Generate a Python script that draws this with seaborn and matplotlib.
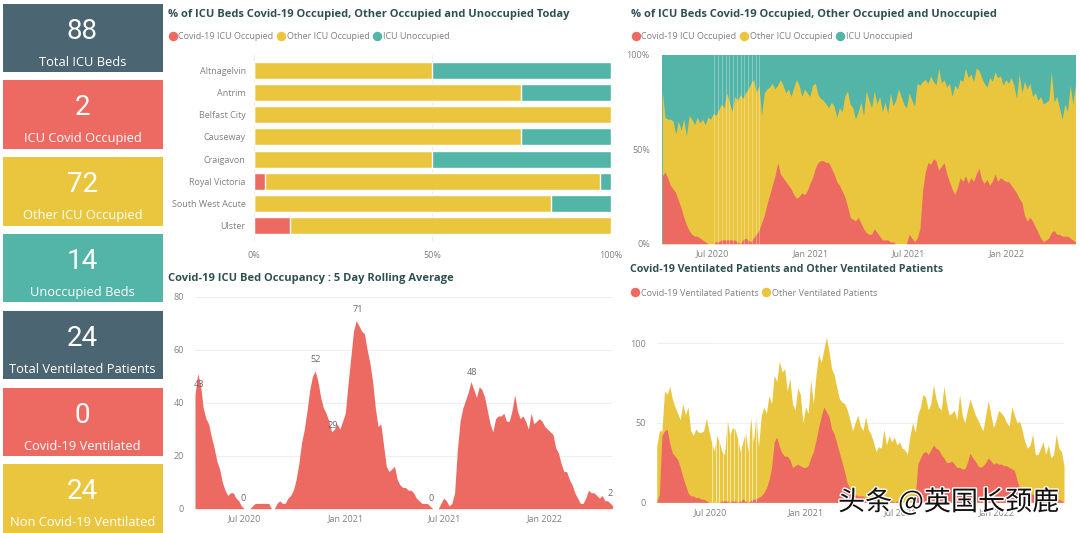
import pandas as pd
import numpy as np
import seaborn as sns
from matplotlib import pyplot as plt
from matplotlib import patheffects
from matplotlib.lines import Line2D
from matplotlib.patches import Rectangle

RED = '#ED6A62'
YELLOW = '#EAC63F'
TEAL = '#52B5A7'
SLATE = '#4B6572'
TITLE = '#2F5050'
GREY = '#808080'
W, H = 1080, 533

card_values = ['88', '2', '72', '14', '24', '0', '24']
card_labels = ['Total ICU Beds', 'ICU Covid Occupied', 'Other ICU Occupied', 'Unoccupied Beds',
               'Total Ventilated Patients', 'Covid-19 Ventilated', 'Non Covid-19 Ventilated']
card_colors = [SLATE, RED, YELLOW, TEAL, SLATE, RED, YELLOW]
card_tops = [4, 80, 157, 234, 311, 388, 464]
card_bottoms = [72, 149, 226, 302, 379, 456, 533]

hospitals = ['Altnagelvin', 'Antrim', 'Belfast City', 'Causeway', 'Craigavon', 'Royal Victoria',
             'South West Acute', 'Ulster']
today_covid = np.array([0, 0, 0, 0, 0, 3, 0, 10])
today_other = np.array([50, 75, 100, 75, 50, 94, 83.3, 90])
today_unocc = np.array([50, 25, 0, 25, 50, 3, 16.7, 0])

# % of beds, one value per 5 days
pct_covid = [36, 38, 35, 31, 29, 27, 23, 19, 14, 10,
             7, 5, 4, 4, 3, 2, 1, 0, 0, 0,
             1, 1, 2, 2, 2, 2, 2, 2, 1, 0,
             2, 3, 2, 1, 3, 5, 7, 11, 15, 21,
             26, 31, 36, 43, 37, 35, 33, 31, 29, 26,
             24, 25, 27, 26, 28, 32, 35, 40, 43, 44,
             44, 43, 43, 40, 37, 33, 31, 28, 25, 20,
             14, 13, 12, 14, 11, 8, 6, 5, 5, 8,
             6, 4, 2, 2, 2, 1, 1, 0, 0, 0,
             0, 0, 5, 3, 1, 3, 8, 28, 38, 43,
             42, 45, 44, 39, 41, 43, 37, 33, 29, 26,
             30, 35, 33, 36, 32, 35, 33, 37, 40, 34,
             32, 34, 31, 33, 37, 33, 35, 34, 33, 33,
             31, 29, 27, 24, 22, 15, 12, 14, 12, 9,
             6, 3, 1, 2, 3, 6, 7, 5, 5, 4,
             4, 4, 3, 2, 1]
pct_occupied = [81, 67, 66, 66, 65, 58, 65, 60, 66, 57,
                68, 66, 63, 67, 64, 66, 63, 67, 66, 69,
                68, 71, 74, 72, 80, 75, 70, 78, 76, 79,
                77, 80, 82, 85, 87, 80, 84, 68, 80, 82,
                83, 85, 82, 84, 87, 84, 80, 82, 78, 83,
                87, 84, 78, 82, 80, 78, 84, 85, 79, 77,
                76, 74, 72, 75, 73, 67, 72, 70, 78, 81,
                74, 72, 66, 70, 75, 68, 81, 76, 72, 81,
                74, 78, 70, 75, 69, 80, 73, 76, 82, 78,
                74, 72, 80, 76, 73, 85, 84, 86, 87, 85,
                89, 86, 84, 93, 85, 87, 83, 85, 78, 84,
                82, 87, 86, 93, 88, 90, 86, 93, 92, 88,
                85, 83, 88, 86, 91, 88, 89, 84, 87, 85,
                88, 84, 77, 90, 80, 86, 82, 85, 78, 80,
                76, 78, 74, 75, 76, 91, 75, 78, 72, 66,
                74, 70, 84, 74, 85]

# rolling average of occupied beds
rolling_covid = [43, 51, 47, 38, 34, 32, 27, 23, 18, 15,
                 10, 7, 5, 6, 6, 4, 3, 1, 0, 0,
                 0, 1, 2, 2, 2, 2, 2, 2, 0, 0,
                 2, 3, 2, 2, 4, 5, 7, 11, 17, 25,
                 30, 37, 45, 50, 52, 48, 42, 38, 36, 33,
                 29, 30, 32, 30, 33, 36, 47, 57, 67, 71,
                 69, 67, 66, 60, 55, 48, 38, 31, 32, 24,
                 16, 14, 15, 16, 11, 9, 8, 8, 7, 7,
                 6, 4, 3, 2, 2, 2, 1, 0, 0, 0,
                 2, 4, 3, 1, 2, 6, 22, 33, 38, 41,
                 44, 48, 45, 42, 46, 45, 42, 37, 32, 29,
                 34, 35, 35, 36, 33, 33, 37, 43, 37, 34,
                 35, 33, 30, 36, 32, 33, 34, 33, 31, 30,
                 29, 28, 23, 21, 17, 14, 14, 11, 9, 6,
                 4, 2, 2, 4, 7, 6, 6, 5, 4, 5,
                 3, 3, 2, 1]
rolling_labels = ['43', '0', '52', '29', '71', '0', '48', '2']
rolling_label_idx = [0, 18, 44, 50, 59, 87, 101, 152]
rolling_label_off = [(3, 4), (-1, 4), (0, 5), (1, 1), (1, 5), (-1, 4), (1, 3), (0, 4)]

vent_covid = [0, 5, 42, 45, 46, 37, 31, 29, 27, 22,
              16, 11, 6, 4, 4, 3, 3, 2, 2, 1,
              0, 0, 0, 0, 0, 1, 1, 1, 0, 1,
              1, 0, 1, 2, 1, 0, 1, 2, 2, 3,
              4, 6, 9, 14, 22, 38, 41, 35, 31, 29,
              29, 27, 22, 23, 24, 23, 22, 22, 23, 28,
              32, 39, 47, 54, 60, 57, 54, 46, 43, 37,
              31, 25, 19, 12, 9, 5, 5, 4, 4, 4,
              3, 4, 3, 2, 2, 1, 1, 1, 1, 1,
              1, 0, 1, 0, 0, 0, 0, 0, 0, 3,
              24, 28, 31, 32, 30, 33, 36, 34, 33, 30,
              28, 25, 25, 26, 24, 22, 22, 21, 21, 25,
              31, 28, 26, 23, 22, 23, 25, 28, 26, 24,
              25, 24, 24, 23, 23, 22, 21, 20, 14, 9,
              8, 6, 7, 6, 5, 4, 3, 3, 2, 1,
              1, 0, 1, 2, 2, 1, 0]
vent_total = [35, 45, 45, 70, 68, 73, 65, 60, 56, 52,
              62, 55, 60, 45, 42, 46, 44, 44, 45, 53,
              45, 38, 32, 42, 38, 32, 30, 52, 42, 47,
              46, 40, 32, 38, 44, 32, 53, 38, 54, 35,
              54, 60, 56, 67, 62, 80, 76, 89, 82, 84,
              70, 78, 62, 58, 72, 68, 50, 60, 56, 77,
              62, 80, 93, 88, 96, 104, 95, 84, 80, 72,
              65, 63, 62, 58, 52, 45, 50, 55, 48, 45,
              54, 46, 43, 38, 32, 35, 34, 46, 36, 42,
              38, 41, 36, 38, 34, 33, 30, 42, 50, 44,
              55, 60, 68, 66, 58, 62, 74, 65, 60, 58,
              73, 62, 55, 56, 58, 52, 68, 55, 50, 58,
              65, 60, 55, 52, 48, 45, 55, 64, 55, 47,
              52, 58, 56, 54, 50, 48, 60, 55, 50, 51,
              45, 38, 34, 36, 43, 30, 30, 34, 38, 30,
              36, 28, 30, 43, 34, 32, 23]

# days with missing reports in summer 2020
gap_dates = ['2020-07-05', '2020-07-12', '2020-07-19', '2020-07-26', '2020-08-02', '2020-08-09', '2020-08-16',
             '2020-08-23', '2020-08-30', '2020-09-06', '2020-09-13', '2020-09-20', '2020-09-27']
date_ticks = ['2020-07-01', '2021-01-01', '2021-07-01', '2022-01-01']
date_labels = ['Jul 2020', 'Jan 2021', 'Jul 2021', 'Jan 2022']

sns.set_theme(style='white')
plt.rcParams['font.family'] = ['Open Sans', 'DejaVu Sans']

fig = plt.figure(figsize=(W / 100, H / 100), dpi=100, facecolor='white')


def axes_at(left, top, right, bottom):
    ax = fig.add_axes([left / W, 1 - bottom / H, (right - left) / W, (bottom - top) / H])
    sns.despine(ax=ax, left=True, bottom=True)
    ax.tick_params(length=0, labelsize=6.5, labelcolor=GREY)
    ax.tick_params(axis='x', pad=4)
    ax.tick_params(axis='y', pad=6)
    return ax


def title_at(x, y, text, size=8.0):
    fig.text(x / W, 1 - y / H, text, fontsize=size, fontweight='bold', color=TITLE, va='center')


def legend_at(ax, x, y, names, colors):
    handles = [Line2D([], [], ls='', marker='o', ms=5.8, color=c) for c in colors]
    ax.legend(handles, names, loc='center left', bbox_to_anchor=(x / W, 1 - y / H),
              bbox_transform=fig.transFigure, ncol=len(names), frameon=False, fontsize=6.5,
              labelcolor=GREY, handlelength=1.0, handletextpad=0.15, columnspacing=0.35,
              borderpad=0, borderaxespad=0)


def date_axis(ax, start, end):
    ax.set_xlim(pd.Timestamp(start), pd.Timestamp(end))
    ax.set_xticks(pd.to_datetime(date_ticks))
    ax.set_xticklabels(date_labels)
    ax.set_xlabel('')
    ax.set_ylabel('')


# KPI cards
for val, lab, col, top, bottom in zip(card_values, card_labels, card_colors, card_tops, card_bottoms):
    fig.add_artist(Rectangle((2.5 / W, 1 - bottom / H), 160.5 / W, (bottom - top) / H,
                             transform=fig.transFigure, color=col, lw=0))
    fig.text(82.5 / W, 1 - (top + 27.5) / H, val, color='white', fontsize=20, ha='center', va='center',
             family=['Roboto', 'DejaVu Sans'])
    fig.text(82.5 / W, 1 - (top + 58.5) / H, lab, color='white', fontsize=9.3, ha='center', va='center')

# today's stacked bars
title_at(168, 14, '% of ICU Beds Covid-19 Occupied, Other Occupied and Unoccupied Today')
ax = axes_at(254, 55, 610.6, 241)
sns.barplot(x=today_covid + today_other + today_unocc, y=hospitals, color=TEAL, width=0.77, saturation=1, ax=ax)
sns.barplot(x=today_covid + today_other, y=hospitals, color=YELLOW, width=0.77, saturation=1, ax=ax)
sns.barplot(x=today_covid, y=hospitals, color=RED, width=0.77, saturation=1, ax=ax)
ax.set_xlim(0, 100)
ax.set_ylim(7.70, -0.70)
ax.set_xticks([0, 50, 100])
ax.set_xticklabels(['0%', '50%', '100%'])
ax.tick_params(axis='x', pad=7)
ax.tick_params(axis='y', pad=6)
ax.grid(axis='x', color='#EEEEEE', lw=0.8)
ax.set_axisbelow(True)
legend_at(ax, 168, 36.5, ['Covid-19 ICU Occupied', 'Other ICU Occupied', 'ICU Unoccupied'], [RED, YELLOW, TEAL])

# 100% stacked area over time
title_at(631, 14, '% of ICU Beds Covid-19 Occupied, Other Occupied and Unoccupied')
ax = axes_at(662.3, 55, 1075, 243.7)
pct_dates = pd.date_range('2020-03-30', periods=len(pct_covid), freq='5D')
sns.lineplot(x=pct_dates, y=pct_covid, color=RED, lw=0, ax=ax)
ax.fill_between(pct_dates, 100, color=TEAL, lw=0)
ax.fill_between(pct_dates, pct_occupied, color=YELLOW, lw=0)
ax.fill_between(pct_dates, pct_covid, color=RED, lw=0)
for d in gap_dates:
    ax.axvline(pd.Timestamp(d), color='white', lw=0.6, alpha=0.35)
date_axis(ax, '2020-03-30', '2022-05-08')
ax.set_ylim(0, 100)
ax.set_yticks([0, 50, 100])
ax.set_yticklabels(['0%', '50%', '100%'])
ax.tick_params(axis='y', pad=9)
legend_at(ax, 631, 36.5, ['Covid-19 ICU Occupied', 'Other ICU Occupied', 'ICU Unoccupied'], [RED, YELLOW, TEAL])

# rolling average area
title_at(168, 278, 'Covid-19 ICU Bed Occupancy : 5 Day Rolling Average')
ax = axes_at(195, 296.7, 612, 508.7)
roll_dates = pd.date_range('2020-04-01', periods=len(rolling_covid), freq='5D')
sns.lineplot(x=roll_dates, y=rolling_covid, color=RED, lw=0, ax=ax)
ax.fill_between(roll_dates, rolling_covid, color=RED, lw=0)
date_axis(ax, '2020-04-01', '2022-05-04')
ax.set_ylim(0, 80)
ax.set_yticks([0, 20, 40, 60, 80])
ax.tick_params(axis='y', pad=8)
ax.grid(axis='y', color='#EEEEEE', lw=0.8)
ax.set_axisbelow(True)
for lab, i, off in zip(rolling_labels, rolling_label_idx, rolling_label_off):
    ax.annotate(lab, (roll_dates[i], rolling_covid[i]), xytext=off, textcoords='offset points',
                ha='center', va='bottom', fontsize=6.6, color='#6A6A6A')

# ventilated patients
title_at(630, 270, 'Covid-19 Ventilated Patients and Other Ventilated Patients', size=7.7)
ax = axes_at(656.7, 330, 1064, 502.3)
vent_dates = pd.date_range('2020-03-21', periods=len(vent_total), freq='5D')
sns.lineplot(x=vent_dates, y=vent_total, color=YELLOW, lw=0, ax=ax)
ax.fill_between(vent_dates, vent_total, color=YELLOW, lw=0)
ax.fill_between(vent_dates, vent_covid, color=RED, lw=0)
for d in gap_dates:
    ax.axvline(pd.Timestamp(d), color='white', lw=0.7, alpha=0.6)
date_axis(ax, '2020-03-21', '2022-05-10')
ax.set_ylim(0, 108.4)
ax.set_yticks([0, 50, 100])
ax.tick_params(axis='y', pad=8)
ax.grid(axis='y', color='#EEEEEE', lw=0.8)
ax.set_axisbelow(True)
legend_at(ax, 630.5, 293, ['Covid-19 Ventilated Patients', 'Other Ventilated Patients'], [RED, YELLOW])

# watermark
fig.text(838 / W, 1 - 502 / H, '头条 @英国长颈鹿', color='#111111', fontsize=19.5, va='center',
         family=['Noto Sans CJK SC', 'DejaVu Sans'],
         path_effects=[patheffects.withStroke(linewidth=2, foreground='white')])

fig.savefig('out.png', dpi=100)
